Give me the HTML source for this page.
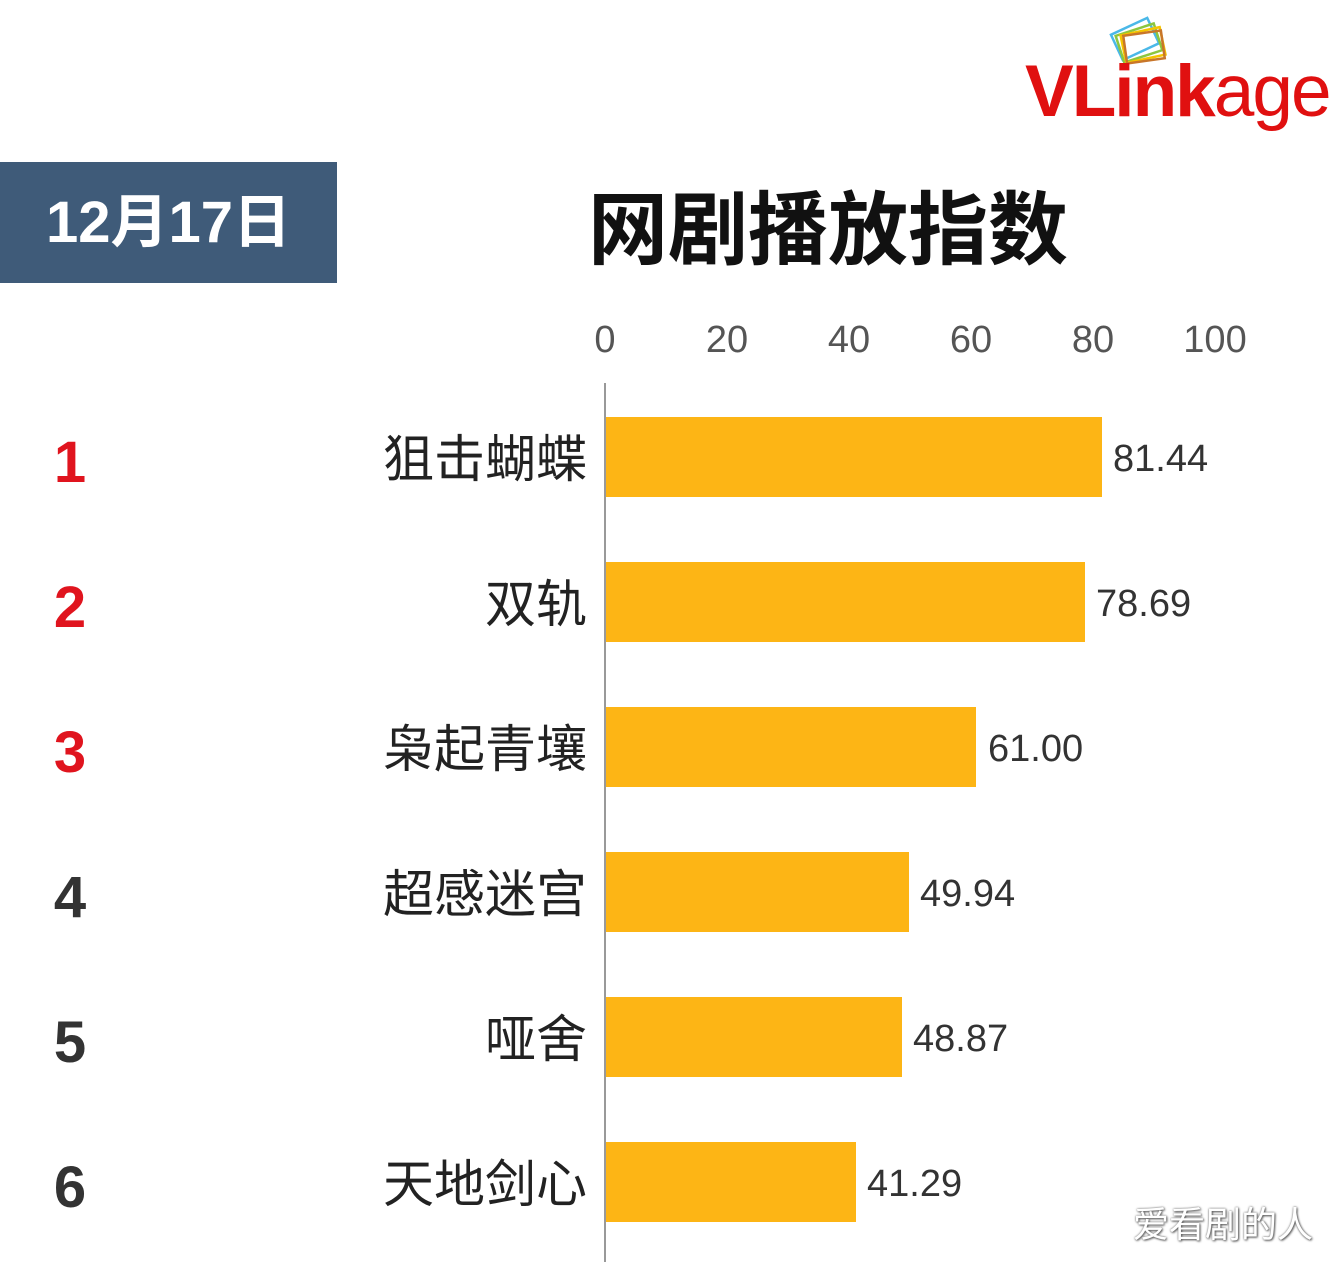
<!DOCTYPE html>
<html><head><meta charset="utf-8"><style>
body{margin:0;width:1342px;height:1262px;background:#fff;position:relative;overflow:hidden;font-family:"Liberation Sans","Noto Sans CJK SC",sans-serif;}
.a{position:absolute;white-space:nowrap}
.bar{position:absolute;left:606px;height:80px;background:#fdb515}
.lab{position:absolute;right:755px;font-size:51px;color:#222;line-height:80px}
.val{position:absolute;font-size:38px;color:#333;line-height:80px}
.rk{position:absolute;left:50px;width:40px;text-align:center;font-size:58px;font-weight:bold;line-height:80px}
.tk{position:absolute;top:319px;font-size:38px;color:#555;width:100px;margin-left:-50px;text-align:center}
</style></head><body>
<svg class="a" style="left:1095px;top:15px" width="80" height="60" viewBox="0 0 80 60">
<g fill="none" stroke-width="2.5">
<rect x="20" y="10" width="40" height="28" transform="rotate(-25 40 24)" stroke="#4ab8e8"/>
<rect x="24" y="14" width="40" height="28" transform="rotate(-18 44 28)" stroke="#8cc63f"/>
<rect x="28" y="16" width="40" height="28" transform="rotate(-12 48 30)" stroke="#f5c400"/>
<rect x="30" y="18" width="38" height="28" transform="rotate(-8 49 32)" stroke="#c8762a"/>
</g></svg>
<div class="a" style="left:1025px;top:50px;font-size:73px;color:#e01010;letter-spacing:-2px"><b>VLink</b>age</div>
<div class="a" style="left:0;top:162px;width:337px;height:121px;background:#3f5b79"></div>
<div class="a" style="left:0;top:162px;width:337px;line-height:121px;text-align:center;color:#fff;font-size:58px;font-weight:bold">12月17日</div>
<div class="a" style="left:588px;top:166px;font-size:80px;font-weight:bold;color:#111">网剧播放指数</div>
<div class="tk" style="left:605px">0</div><div class="tk" style="left:727px">20</div><div class="tk" style="left:849px">40</div><div class="tk" style="left:971px">60</div><div class="tk" style="left:1093px">80</div><div class="tk" style="left:1215px">100</div>
<div class="a" style="left:604px;top:383px;width:2px;height:879px;background:#999"></div>

<div class="bar" style="top:417px;width:496px"></div><div class="lab" style="top:420px">狙击蝴蝶</div><div class="val" style="top:419px;left:1113px">81.44</div><div class="rk" style="top:423px;color:#e0141e">1</div>
<div class="bar" style="top:562px;width:479px"></div><div class="lab" style="top:565px">双轨</div><div class="val" style="top:564px;left:1096px">78.69</div><div class="rk" style="top:568px;color:#e0141e">2</div>
<div class="bar" style="top:707px;width:370px"></div><div class="lab" style="top:710px">枭起青壤</div><div class="val" style="top:709px;left:988px">61.00</div><div class="rk" style="top:713px;color:#e0141e">3</div>
<div class="bar" style="top:852px;width:303px"></div><div class="lab" style="top:855px">超感迷宫</div><div class="val" style="top:854px;left:920px">49.94</div><div class="rk" style="top:858px;color:#333">4</div>
<div class="bar" style="top:997px;width:296px"></div><div class="lab" style="top:1000px">哑舍</div><div class="val" style="top:999px;left:913px">48.87</div><div class="rk" style="top:1003px;color:#333">5</div>
<div class="bar" style="top:1142px;width:250px"></div><div class="lab" style="top:1145px">天地剑心</div><div class="val" style="top:1144px;left:867px">41.29</div><div class="rk" style="top:1148px;color:#333">6</div>
<div class="a" style="left:1133px;top:1196px;font-size:36px;color:#fff;text-shadow:0 0 2px #666,1px 1px 2px #555">爱看剧的人</div>
</body></html>
